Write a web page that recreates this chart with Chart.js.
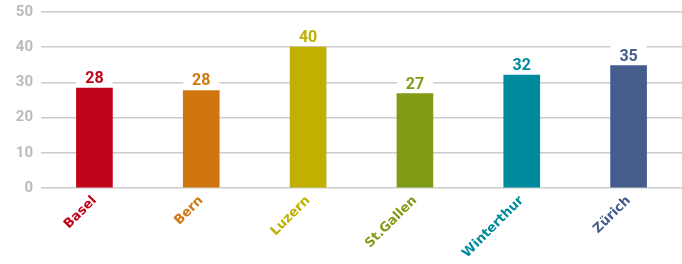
<!DOCTYPE html>
<html>
<head>
<meta charset="utf-8">
<script src="https://cdn.jsdelivr.net/npm/chart.js@4"></script>
<style>
  html, body { margin: 0; padding: 0; background: #fff; }
  #wrap { width: 682px; height: 264px; }
</style>
</head>
<body>
<div id="wrap"><canvas id="city-chart"></canvas></div>
<script>
// --City chart-- //

const cities = ['Basel', 'Bern', 'Luzern', 'St.Gallen', 'Winterthur', 'Zürich'];
const values = [28.4, 27.7, 40, 26.8, 32.1, 34.8];
const valueLabels = ['28', '28', '40', '27', '32', '35'];
const cityColors = ['#be0519', '#d0760f', '#c0b000', '#809c16', '#008a9e', '#455d8c'];
const yTicks = [0, 10, 20, 30, 40, 50];

const fontFamily = 'Roboto, "DejaVu Sans", sans-serif';

// value above each bar, on a white box that hides the grid line
const valueLabelPlugin = {
  id: 'valueLabels',
  afterDatasetsDraw(chart) {
    const ctx = chart.ctx;
    const meta = chart.getDatasetMeta(0);
    ctx.save();
    ctx.font = 'bold 16px ' + fontFamily;
    ctx.textAlign = 'center';
    ctx.textBaseline = 'alphabetic';
    meta.data.forEach((bar, i) => {
      const w = bar.width;
      const base = bar.y - 5;
      ctx.fillStyle = '#fff';
      ctx.fillRect(bar.x - w / 2, base - 16, w, 17);
      ctx.fillStyle = cityColors[i];
      ctx.fillText(valueLabels[i], bar.x, base);
    });
    ctx.restore();
  }
};

const cityChart = new Chart(document.getElementById('city-chart'), {
  type: 'bar',
  data: {
    labels: cities,
    datasets: [{
      data: values,
      backgroundColor: cityColors,
      barThickness: 36
    }]
  },
  options: {
    responsive: true,
    maintainAspectRatio: false,
    animation: { duration: 0 },
    layout: { padding: { top: 12, right: 0, left: 0, bottom: 0 } },
    plugins: {
      legend: { display: false },
      tooltip: { enabled: false }
    },
    scales: {
      y: {
        min: 0,
        max: 50,
        afterFit: (axis) => {
          axis.width = 41;
          axis.paddingTop = 0;
          axis.paddingBottom = 0;
        },
        afterBuildTicks: (axis) => { axis.ticks = yTicks.map(v => ({ value: v })); },
        border: { display: false },
        grid: { color: '#cccccc', lineWidth: 1.5, drawTicks: false },
        ticks: {
          padding: 8,
          color: '#bbbbbb',
          font: { family: fontFamily, size: 15, weight: 'bold' }
        }
      },
      x: {
        afterFit: (axis) => { axis.height = 76; },
        border: { display: false },
        grid: { display: false },
        ticks: {
          minRotation: 45,
          maxRotation: 45,
          padding: -3,
          color: cityColors,
          font: { family: '"DejaVu Sans", sans-serif', size: 13, weight: 'bold' }
        }
      }
    }
  },
  plugins: [valueLabelPlugin]
});
</script>
</body>
</html>
